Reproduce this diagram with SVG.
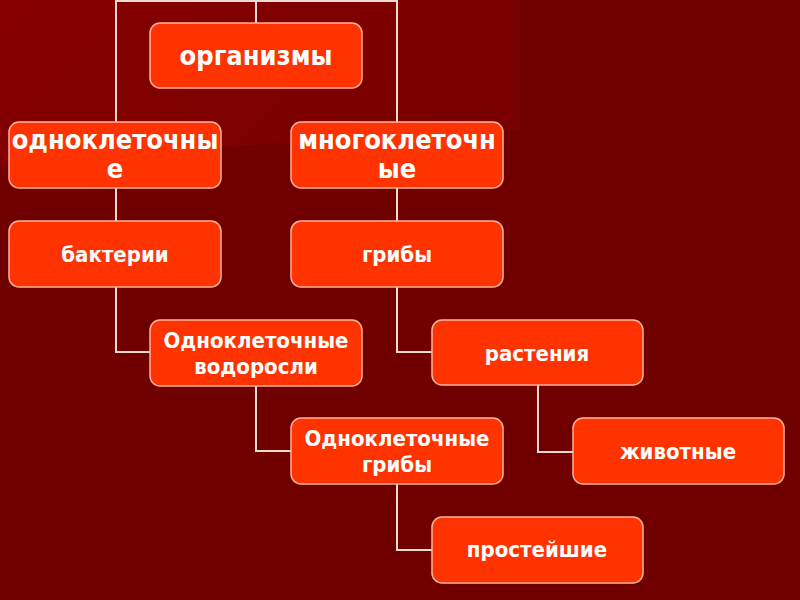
<svg xmlns="http://www.w3.org/2000/svg" width="800" height="600" viewBox="0 0 800 600">
<defs>
<linearGradient id="bgTop" x1="0" y1="0" x2="1" y2="0.3">
<stop offset="0" stop-color="#870000"/>
<stop offset="1" stop-color="#790000"/>
</linearGradient>
<style>
.box{fill:#ff3300;stroke:#ffb29c;stroke-width:1.5}
.t{font-family:"DejaVu Sans Condensed","DejaVu Sans",sans-serif;font-weight:bold;fill:#ffffff;text-anchor:middle}
.xl{font-size:27px}
.big{font-size:22px}
.sm{font-size:22px}
.conn{fill:none;stroke:#f3d9d3;stroke-width:2}
</style>
</defs>
<rect width="800" height="600" fill="#700000"/>
<path d="M0,0 H520 V130 Q300,138 0,166 Z" fill="url(#bgTop)"/>
<g id="connectors" class="conn">
<path d="M116,122 V1 H397 V122"/>
<path d="M256,1 V23"/>
<path d="M116,188 V221"/>
<path d="M397,188 V221"/>
<path d="M116,287 V352 H150"/>
<path d="M397,287 V352 H432"/>
<path d="M256,386 V451 H291"/>
<path d="M538,385 V452 H573"/>
<path d="M397,484 V550 H432"/>
</g>
<g id="organizmy">
<rect class="box" x="150" y="23" width="212" height="65" rx="10"/>
<text class="t xl" x="256" y="65">организмы</text>
</g>
<g id="odnokletochnye">
<rect class="box" x="9" y="122" width="212" height="66" rx="10"/>
<text class="t xl" x="115" y="149">одноклеточны</text>
<text class="t xl" x="115" y="178">е</text>
</g>
<g id="mnogokletochnye">
<rect class="box" x="291" y="122" width="212" height="66" rx="10"/>
<text class="t xl" x="397" y="149">многоклеточн</text>
<text class="t xl" x="397" y="178">ые</text>
</g>
<g id="bakterii">
<rect class="box" x="9" y="221" width="212" height="66" rx="10"/>
<text class="t big" x="115" y="262">бактерии</text>
</g>
<g id="griby">
<rect class="box" x="291" y="221" width="212" height="66" rx="10"/>
<text class="t big" x="397" y="262">грибы</text>
</g>
<g id="vodorosli">
<rect class="box" x="150" y="320" width="212" height="66" rx="10"/>
<text class="t sm" x="256" y="348">Одноклеточные</text>
<text class="t sm" x="256" y="374">водоросли</text>
</g>
<g id="rasteniya">
<rect class="box" x="432" y="320" width="211" height="65" rx="10"/>
<text class="t big" x="537" y="361">растения</text>
</g>
<g id="odnokl-griby">
<rect class="box" x="291" y="418" width="212" height="66" rx="10"/>
<text class="t sm" x="397" y="446">Одноклеточные</text>
<text class="t sm" x="397" y="472">грибы</text>
</g>
<g id="zhivotnye">
<rect class="box" x="573" y="418" width="211" height="66" rx="10"/>
<text class="t big" x="678" y="459">животные</text>
</g>
<g id="prosteyshie">
<rect class="box" x="432" y="517" width="211" height="66" rx="10"/>
<text class="t big" x="537" y="557">простейшие</text>
</g>
</svg>
